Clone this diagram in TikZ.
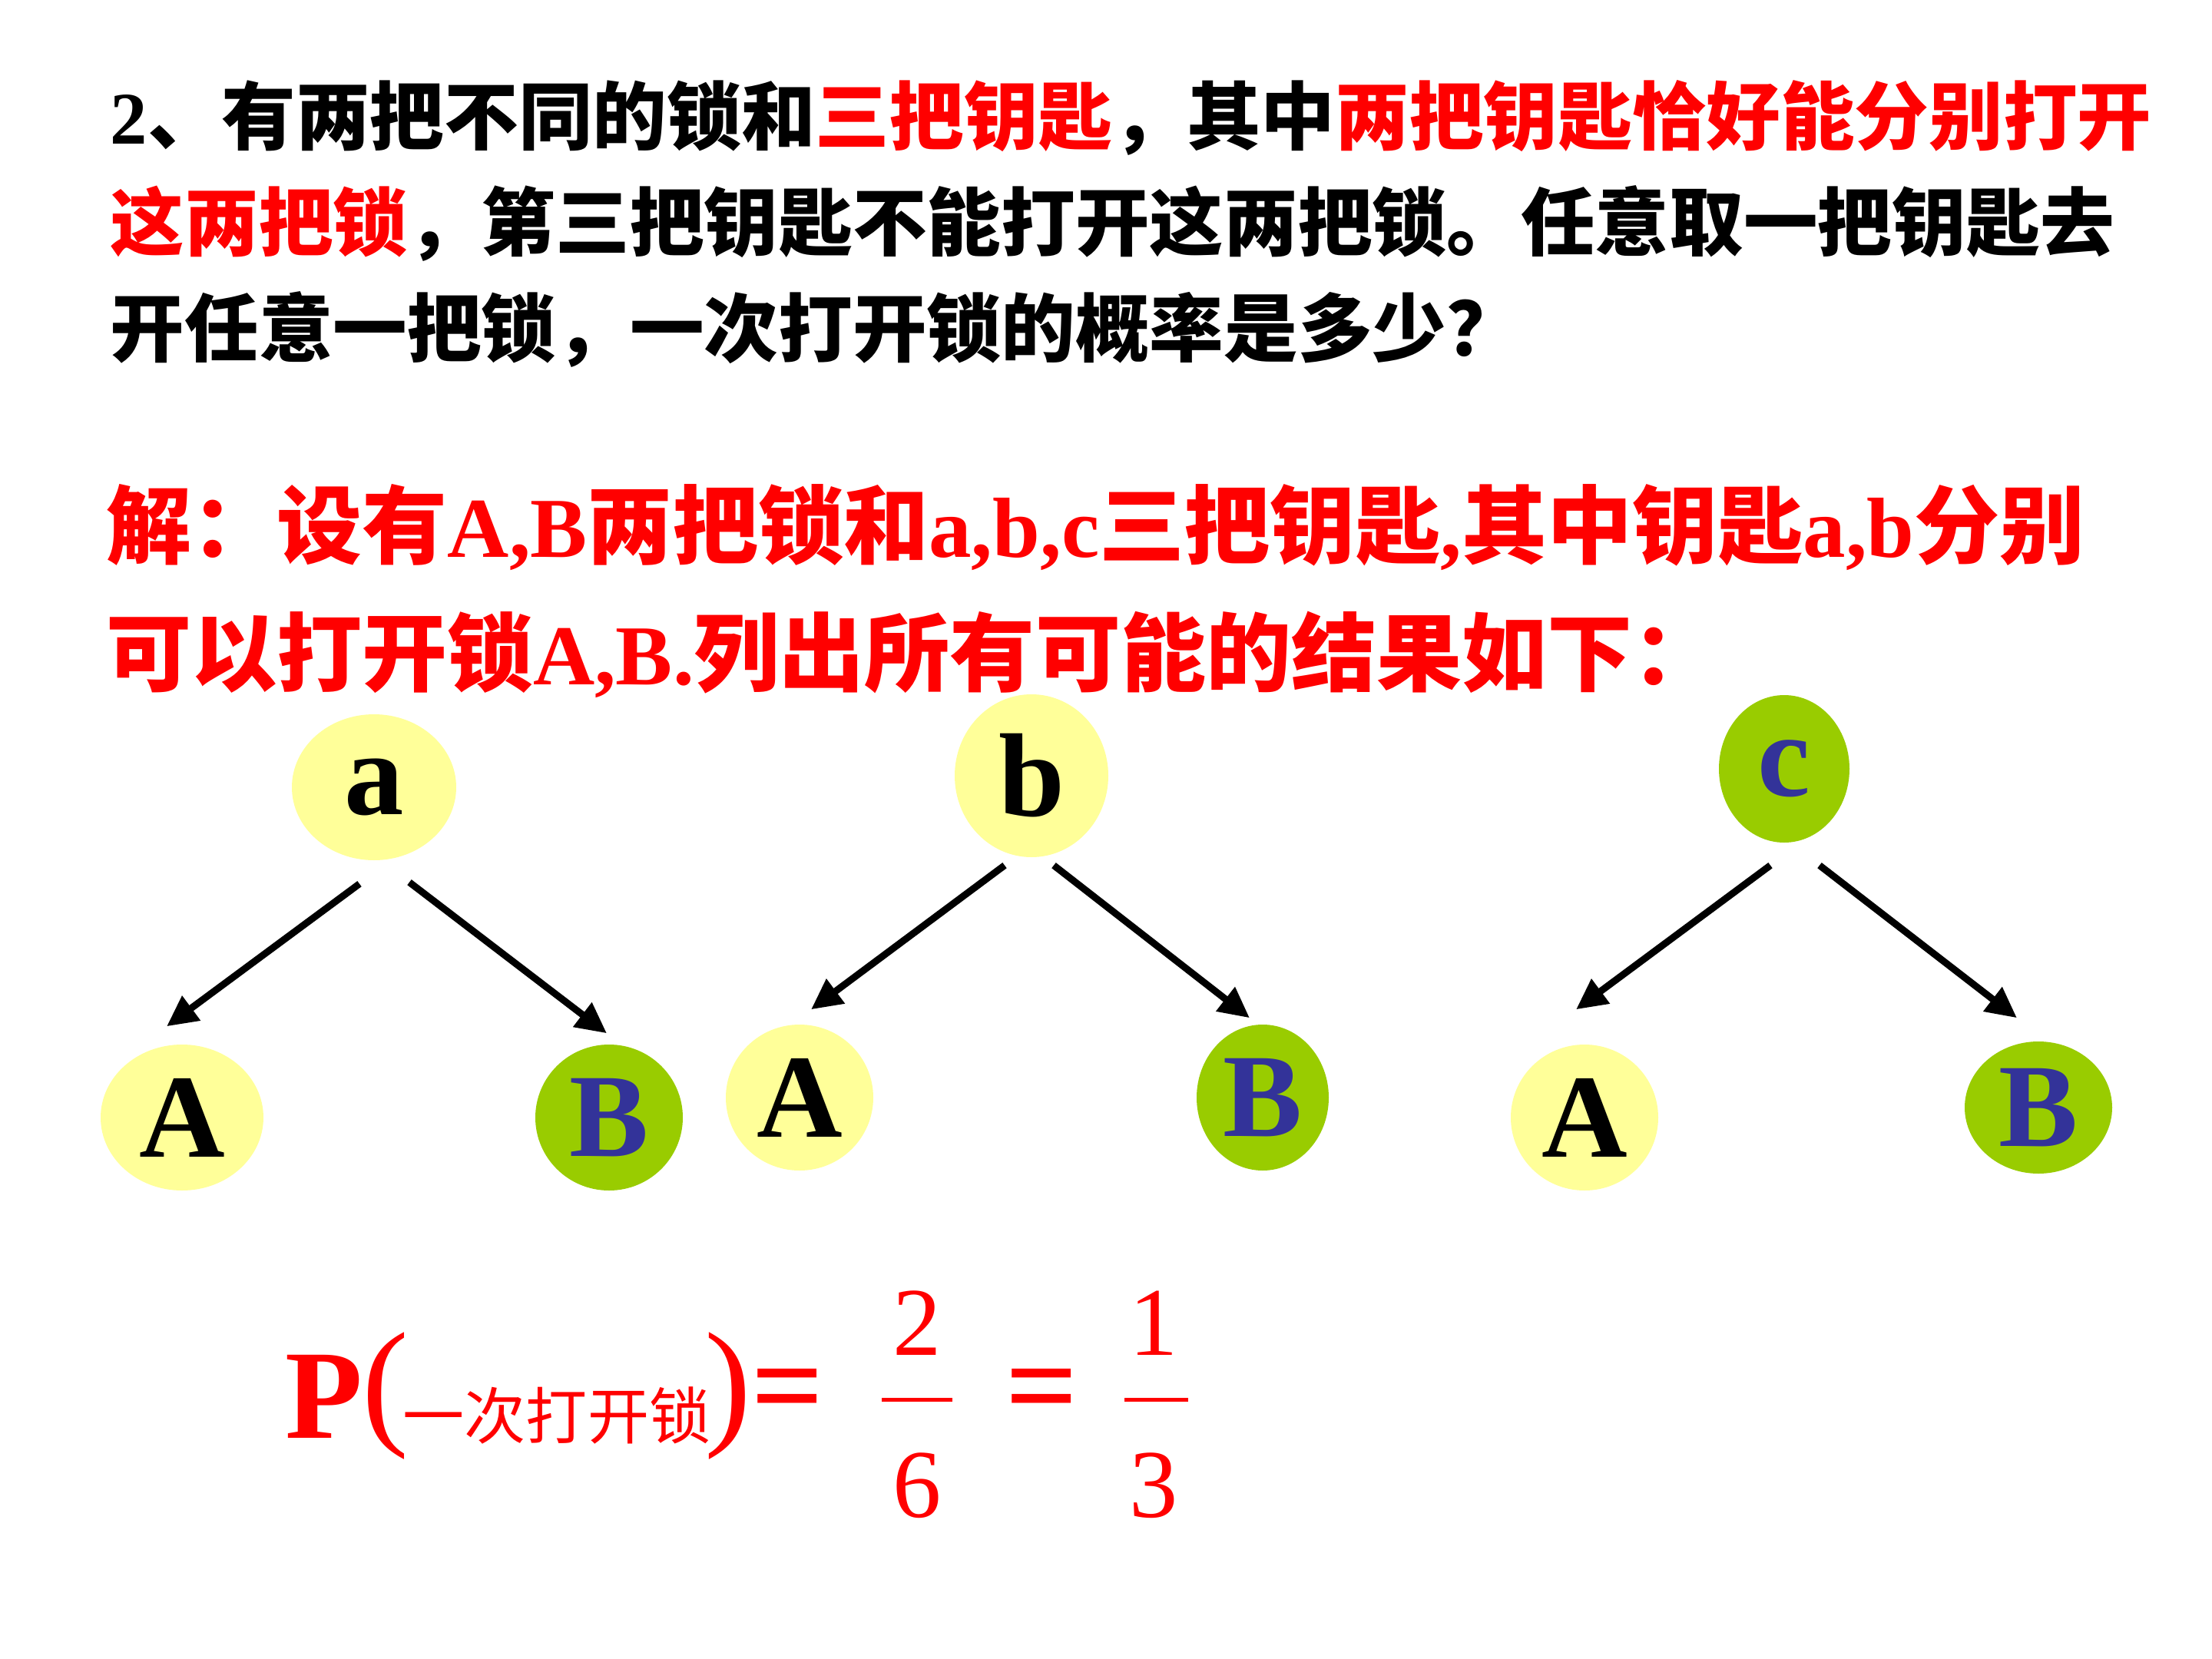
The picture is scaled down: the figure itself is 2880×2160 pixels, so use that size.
\documentclass[tikz,border=0pt]{standalone}
\usepackage{fontspec}
\setmainfont{Liberation Serif}
\newfontfamily\cjk{Noto Sans CJK SC}
\usetikzlibrary{shapes.geometric,arrows.meta,calc}
\definecolor{kyellow}{HTML}{FFFF99}
\definecolor{kgreen}{HTML}{99CC00}
\definecolor{kblue}{HTML}{333399}
\definecolor{kred}{HTML}{FF0000}
\newcommand{\topfont}{\fontsize{27.5pt}{33pt}\selectfont\bfseries}
\newcommand{\solfont}{\fontsize{31.6pt}{38pt}\selectfont\bfseries}
\newcommand{\bigbold}{\fontsize{47pt}{50pt}\selectfont\bfseries}
\tikzset{
  letter/.style={ellipse, inner sep=0pt, font=\fontsize{44pt}{44pt}\selectfont\bfseries},
  ynode/.style={letter, fill=kyellow, text=black},
  gnode/.style={letter, fill=kgreen, text=kblue},
  arr/.style={line width=0.9mm, -{Triangle[length=4mm,width=3.8mm]}},
  txt/.style={anchor=base west, inner sep=0pt},
  fracdigit/.style={text=kred, inner sep=0pt, font=\fontsize{36pt}{40pt}\selectfont},
  fracbar/.style={kred, line width=0.5mm},
}
\begin{document}
\begin{tikzpicture}[x=0.1mm, y=-0.1mm]
\fill[white] (0,0) rectangle (2880,2160);
\useasboundingbox (0,0) rectangle (2880,2160);

% question text
\node[txt] (t1) at (143,187) {\topfont 2{\cjk 、有两把不同的锁和\textcolor{kred}{三把钥匙}，其中\textcolor{kred}{两把钥匙恰好能分别打开}}};
\node[txt] (t2) at (143,325) {\topfont{\cjk \textcolor{kred}{这两把锁}，第三把钥匙不能打开这两把锁。任意取一把钥匙去}};
\node[txt] (t3) at (143,463) {\topfont{\cjk 开任意一把锁，一次打开锁的概率是多少？}};

% solution text
\node[txt, text=kred] (s1) at (138,725) {\solfont{\cjk 解：设有}A,B{\cjk 两把锁和}a,b,c{\cjk 三把钥匙},{\cjk 其中钥匙}a,b{\cjk 分别}};
\node[txt, text=kred] (s2) at (138,891) {\solfont{\cjk 可以打开锁}A,B.{\cjk 列出所有可能的结果如下：}};

% tree a
\node[ynode, minimum width=21.4mm, minimum height=19mm] (a) at (487,1025) {a};
\node[ynode, minimum width=21.2mm, minimum height=19mm] (aA) at (237,1455) {A};
\node[gnode, minimum width=19.2mm, minimum height=19mm] (aB) at (793,1455) {B};
% tree b
\node[ynode, minimum width=20mm, minimum height=21.2mm] (b) at (1343,1010) {b};
\node[ynode, minimum width=19.2mm, minimum height=19mm] (bA) at (1041,1429) {A};
\node[gnode, minimum width=17.2mm, minimum height=19mm] (bB) at (1644,1429) {B};
% tree c
\node[gnode, minimum width=17mm, minimum height=19.2mm] (c) at (2323,1001) {c};
\node[ynode, minimum width=19.2mm, minimum height=19mm] (cA) at (2063,1455) {A};
\node[gnode, minimum width=19.2mm, minimum height=17.2mm] (cB) at (2654,1442) {B};

\draw[arr] ($(a.south)+(-19,30)$) -- ($(aA.north)+(-20,-23)$);
\draw[arr] ($(a.south)+(46,28)$) -- ($(aB.north)+(-3,-14)$);
\draw[arr] ($(b.south)+(-35,10)$) -- ($(bA.north)+(15,-19)$);
\draw[arr] ($(b.south)+(29,10)$) -- ($(bB.north)+(-17,-8)$);
\draw[arr] ($(c.south)+(-18,29)$) -- ($(cA.north)+(-11,-45)$);
\draw[arr] ($(c.south)+(46,29)$) -- ($(cB.north)+(-28,-30)$);

% formula
\node[text=kred, inner sep=0pt, font=\bigbold] (P) at (422,1818) {P};
\node[text=kred, inner sep=0pt, font=\fontsize{52pt}{56pt}\selectfont] (lp) at (502,1818) {(};
\node[text=kred, inner sep=0pt, font=\fontsize{22.8pt}{26pt}\selectfont\cjk] (ev) at (725,1843) {一次打开锁};
\node[text=kred, inner sep=0pt, font=\fontsize{52pt}{56pt}\selectfont] (rp) at (948,1818) {)};
\node[text=kred, inner sep=0pt, font=\bigbold] (eq1) at (1026,1821) {=};
\node[fracdigit] (n1) at (1194,1723) {2};
\node[fracdigit] (d1) at (1194,1934) {6};
\draw[fracbar] (1148,1822) -- (1240,1822);
\node[text=kred, inner sep=0pt, font=\bigbold] (eq2) at (1357,1821) {=};
\node[fracdigit] (n2) at (1502,1723) {1};
\node[fracdigit] (d2) at (1502,1934) {3};
\draw[fracbar] (1464,1822) -- (1547,1822);
\end{tikzpicture}
\end{document}
